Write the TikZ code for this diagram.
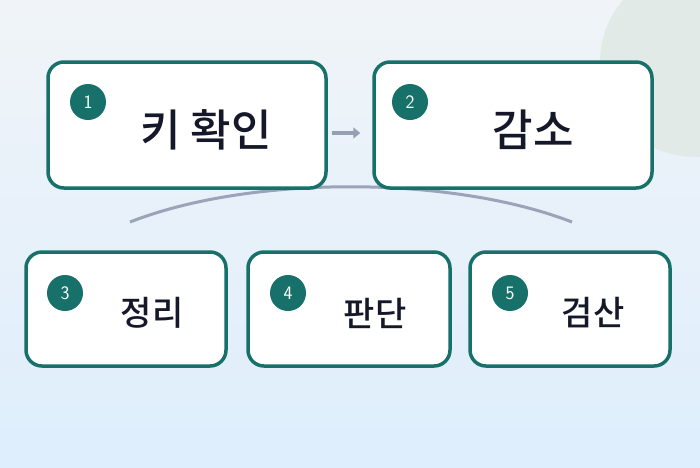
\documentclass[tikz,border=0pt]{standalone}
\usepackage{fontspec}
\newfontfamily\kr{Noto Sans CJK KR Medium}
\usetikzlibrary{arrows.meta}
\definecolor{teal}{HTML}{17706A}
\definecolor{bgtop}{RGB}{240,244,248}
\definecolor{bgbot}{RGB}{222,238,252}
\definecolor{blob}{RGB}{226,234,232}
\definecolor{arc}{RGB}{155,163,184}
\definecolor{arr}{RGB}{150,160,178}
\definecolor{ink}{RGB}{20,24,40}
\begin{document}
\begin{tikzpicture}[x=1pt,y=-1pt,
 box/.style={draw=teal,line width=3.5pt,rounded corners=16pt,fill=white},
 num/.style={circle,fill=teal,minimum size=36pt,inner sep=0pt,text=white,font=\sffamily\fontsize{19}{19}\selectfont},
 big/.style={font=\kr\fontsize{44}{44}\selectfont,text=ink},
 small/.style={font=\kr\fontsize{34}{34}\selectfont,text=ink}]
\useasboundingbox (0,0) rectangle (700,467);
\shade[top color=bgtop,bottom color=bgbot] (0,0) rectangle (700,467);
\begin{scope}
\clip (0,0) rectangle (700,467);
\fill[blob] (695,62) circle (95);
\end{scope}
\draw[line width=3pt,color=arc] (130,222) .. controls (250,175) and (450,175) .. (572,222);
\node[box,minimum width=278pt,minimum height=126pt] (b1) at (187,125) {};
\node[box,minimum width=278pt,minimum height=126pt] (b2) at (513,125) {};
\node[box,minimum width=200pt,minimum height=114pt] (b3) at (126,309) {};
\node[box,minimum width=202pt,minimum height=114pt] (b4) at (349,309) {};
\node[box,minimum width=200pt,minimum height=114pt] (b5) at (570,309) {};
\draw[-{Triangle[length=7pt,width=11pt]},line width=4pt,color=arr] ([xshift=4pt,yshift=-8pt]b1.east) -- ([xshift=-12pt,yshift=-8pt]b2.west);
\node[num] (n1) at (88,102) {1};
\node[num] (n2) at (410,102) {2};
\node[num] (n3) at (65,293) {3};
\node[num] (n4) at (288,293) {4};
\node[num] (n5) at (510,293) {5};
\node[big] (t1) at (206,130) {키 확인};
\node[big] (t2) at (533,130) {감소};
\node[small] (t3) at (152,313) {정리};
\node[small] (t4) at (375,313) {판단};
\node[small] (t5) at (593,313) {검산};
\end{tikzpicture}
\end{document}
